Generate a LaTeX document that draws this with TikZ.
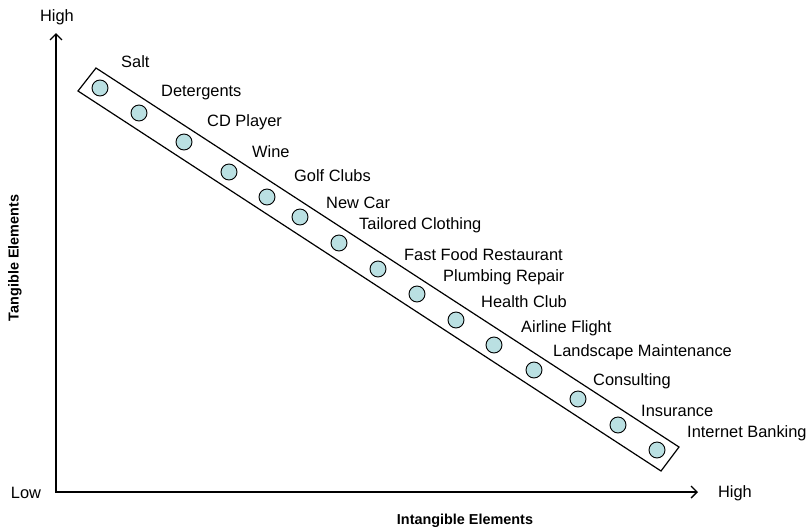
\documentclass[tikz,border=0pt]{standalone}
\usepackage{fontspec}
\setmainfont{Liberation Sans}
\usetikzlibrary{arrows.meta}
\definecolor{dotfill}{RGB}{186,224,226}
\begin{document}
\begin{tikzpicture}[x=1pt,y=-1pt,
  item/.style={circle,draw,line width=0.9pt,fill=dotfill,minimum size=16pt,inner sep=0pt},
  lbl/.style={anchor=west,inner sep=0pt,font=\fontsize{16.4}{18}\selectfont},
  axlbl/.style={inner sep=0pt,font=\fontsize{16.4}{18}\selectfont},
  axtitle/.style={inner sep=0pt,font=\fontsize{14.4}{16}\selectfont\bfseries},
  axis/.style={line width=1.8pt,{Straight Barb[length=6pt,width=12pt,line width=1.4pt]}-{Straight Barb[length=6pt,width=12pt,line width=1.4pt]}},
  band/.style={line width=1.2pt}]
\useasboundingbox (0,0) rectangle (807,531);

% axes
\coordinate (O) at (56,492);
\coordinate (Y) at (56,33);
\coordinate (X) at (698,492);
\draw[axis] (Y) -- (O) -- (X);
\node[axlbl] (yhigh) at (57,17) {High};
\node[axlbl] (low) at (26,493) {Low};
\node[axlbl] (xhigh) at (735,493) {High};
\node[axtitle,rotate=90] (ytitle) at (15,258) {Tangible Elements};
\node[axtitle] (xtitle) at (465,521) {Intangible Elements};

% band enclosing the spectrum
\draw[band] (96,68) -- (78,91) -- (661,471) -- (679,447) -- cycle;

% products and services along the spectrum
\foreach \n/\cx/\cy/\lx/\ly/\t in {
  1/100/88/121/62/Salt,
  2/139/113/161/93/Detergents,
  3/184/142/207/122/CD Player,
  4/229/172/252/152/Wine,
  5/267/197/294/176/Golf Clubs,
  6/300/217/326/203/New Car,
  7/339/243/359/225/Tailored Clothing,
  8/378/269/404/255/Fast Food Restaurant,
  9/417/294/443/277/Plumbing Repair,
  10/456/320/481/302/Health Club,
  11/494/345/521/328/Airline Flight,
  12/534/370/553/352/Landscape Maintenance,
  13/578/399/593/381/Consulting,
  14/618/425/641/411/Insurance,
  15/657/450/687/433/Internet Banking}{
  \node[item] (c\n) at (\cx,\cy) {};
  \node[lbl] (t\n) at (\lx,\ly) {\t};
}
\end{tikzpicture}
\end{document}
